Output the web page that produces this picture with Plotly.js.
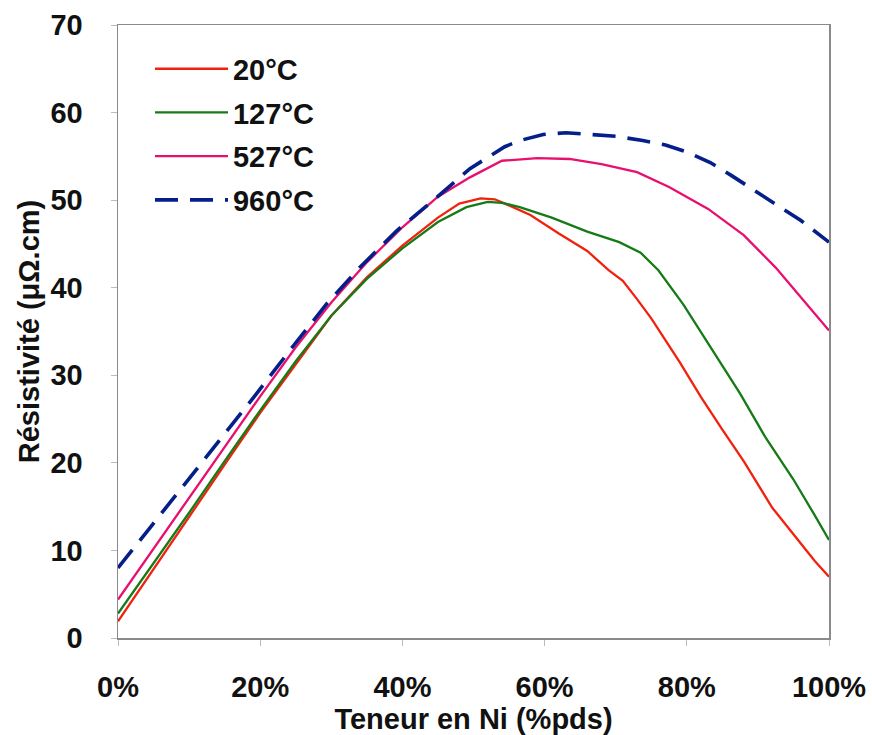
<!DOCTYPE html>
<html>
<head>
<meta charset="utf-8">
<script src="https://cdn.plot.ly/plotly-3.0.1.min.js"></script>
<style>html,body{margin:0;padding:0;background:#fff;}#chart{width:872px;height:735px;}</style>
</head>
<body>
<div id="chart"></div>
<script>
// Data (x: Ni content in %, y: resistivity in µΩ.cm)
const seriesNames = ["20°C", "127°C", "527°C", "960°C"];

const x20 = [0, 2, 5, 10, 15, 20, 25, 30, 35, 40, 45, 48, 51, 53, 55, 58, 62, 66, 69, 71, 73, 75, 79, 82, 85, 88, 92, 96, 98, 100];
const y20 = [1.9, 4.3, 7.8, 13.8, 19.8, 25.7, 31.3, 36.8, 41.2, 44.8, 48.0, 49.6, 50.2, 50.1, 49.4, 48.3, 46.2, 44.2, 42.0, 40.8, 38.7, 36.5, 31.5, 27.5, 23.8, 20.2, 14.9, 10.8, 8.8, 7.0];

const x127 = [0, 5, 10, 15, 20, 25, 30, 35, 40, 45, 49, 52, 54, 56.5, 61, 66, 70.5, 73.5, 76, 79.5, 83, 87.5, 91, 95, 98, 100];
const y127 = [2.8, 8.5, 14.3, 20.2, 26.0, 31.6, 36.8, 41.0, 44.5, 47.5, 49.2, 49.8, 49.7, 49.2, 48.0, 46.4, 45.2, 44.0, 42.0, 38.1, 33.6, 27.9, 23.0, 18.1, 14.0, 11.2];

const x527 = [0, 5, 10, 15, 20, 25, 30, 35, 40, 45, 49.5, 54, 59, 63.5, 68, 73, 77.5, 83, 88, 92.5, 96, 100];
const y527 = [4.4, 10.2, 16.0, 21.8, 27.6, 33.2, 38.3, 42.9, 46.9, 50.4, 52.6, 54.5, 54.8, 54.7, 54.1, 53.2, 51.5, 49.0, 46.0, 42.3, 38.9, 35.1];

const x960 = [0, 5, 10, 15, 19.3, 24.7, 29.4, 34, 39.2, 44.8, 49.5, 54.4, 56.5, 59.8, 63, 66.4, 70, 73.8, 77, 80, 83.3, 86.3, 90.3, 93, 96, 100];
const y960 = [8.0, 13.1, 18.2, 23.2, 27.7, 33.4, 38.2, 42.3, 46.5, 50.3, 53.6, 56.1, 56.8, 57.5, 57.7, 57.5, 57.3, 56.8, 56.3, 55.5, 54.3, 52.8, 50.7, 49.2, 47.7, 45.2];

const xTickVals = [0, 20, 40, 60, 80, 100];
const xTickText = ["0%", "20%", "40%", "60%", "80%", "100%"];
const yTickVals = [0, 10, 20, 30, 40, 50, 60, 70];

const FONT = "Liberation Sans, Arial, Helvetica, sans-serif";
const FS = 29;

const traces = [
  {x: x20, y: y20, name: seriesNames[0], legendgroup: "a", mode: "lines", line: {color: "#f0220e", width: 2.3}},
  {x: x127, y: y127, name: seriesNames[1], legendgroup: "b", mode: "lines", line: {color: "#167a16", width: 2.3}},
  {x: x527, y: y527, name: seriesNames[2], legendgroup: "c", mode: "lines", line: {color: "#e8106e", width: 2.3}},
  {x: x960, y: y960, name: seriesNames[3], legendgroup: "d", mode: "lines", line: {color: "#041e8a", width: 3.6, dash: "23px,12px"}}
];

const layout = {
  width: 872, height: 735,
  margin: {l: 118, r: 43, t: 25, b: 97},
  paper_bgcolor: "#ffffff", plot_bgcolor: "#ffffff",
  font: {family: FONT, size: FS, color: "#111", weight: 700},
  showlegend: true,
  legend: {
    x: 0.045, y: 0.97, xanchor: "left", yanchor: "top",
    bgcolor: "rgba(0,0,0,0)", borderwidth: 0,
    font: {family: FONT, size: FS, color: "#111", weight: 700},
    itemwidth: 73, tracegroupgap: 3
  },
  xaxis: {
    range: [0, 100], tickvals: xTickVals, ticktext: xTickText,
    showgrid: false, zeroline: false,
    showline: true, linecolor: "#8a8a8a", linewidth: 1.5, mirror: true,
    ticks: "outside", ticklen: 6, tickcolor: "#bbbbbb", tickwidth: 1,
    ticklabelstandoff: 17,
    tickfont: {family: FONT, size: FS, color: "#111", weight: 700},
    title: {text: "Teneur en Ni (%pds)", standoff: 4, font: {family: FONT, size: FS, color: "#111", weight: 700}}
  },
  yaxis: {
    range: [0, 70], tickvals: yTickVals,
    showgrid: false, zeroline: false,
    showline: true, linecolor: "#8a8a8a", linewidth: 1.5, mirror: true,
    ticks: "outside", ticklen: 6, tickcolor: "#bbbbbb", tickwidth: 1,
    ticklabelstandoff: 22,
    tickfont: {family: FONT, size: FS, color: "#111", weight: 700},
    title: {text: "Résistivité (μΩ.cm)", standoff: 2, font: {family: FONT, size: FS, color: "#111", weight: 700}}
  }
};

Plotly.newPlot("chart", traces, layout, {displayModeBar: false, staticPlot: true});
</script>
</body>
</html>
